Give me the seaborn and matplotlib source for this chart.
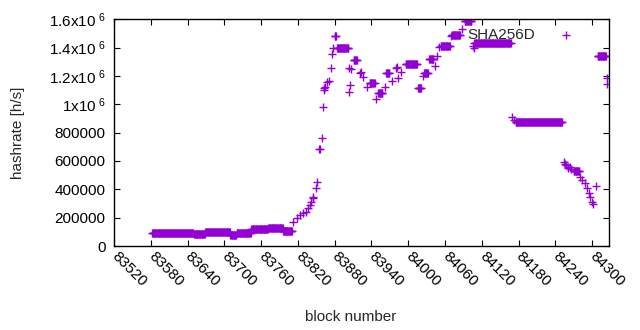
import numpy as np
import pandas as pd
import matplotlib
matplotlib.use('Agg')
import matplotlib.pyplot as plt
import matplotlib.transforms as mtransforms
import seaborn as sns

# plateaus: consecutive blocks with the same hashrate
run_start = [83582, 83650, 83669, 83710, 83720, 83744, 83772, 83796, 83880, 83884,
             83911, 83937, 83951, 83964, 83996, 84016, 84026, 84034, 84053, 84071,
             84092, 84108, 84175, 84270, 84309]
run_end = [83649, 83668, 83709, 83719, 83743, 83771, 83795, 83810, 83882, 83902,
           83916, 83945, 83958, 83969, 84014, 84021, 84032, 84041, 84068, 84084,
           84103, 84167, 84251, 84279, 84322]
run_rate = [90000, 83000, 98000, 76000, 94000, 118000, 125000, 108000, 1480000, 1400000,
            1316000, 1147000, 1077000, 1220000, 1288000, 1112000, 1218000, 1323000, 1412000, 1492000,
            1586000, 1436000, 876000, 529000, 1342000]

# single blocks
single_block = [83812, 83818, 83823, 83829, 83834, 83837, 83840, 83842, 83844, 83845,
                83849, 83851, 83855, 83856, 83859, 83861, 83862, 83863, 83864, 83868,
                83870, 83874, 83876, 83878, 83903, 83904, 83905, 83906, 83922, 83923,
                83926, 83932, 83948, 83962, 83974, 83980, 83981, 83983, 83989, 84024,
                84043, 84047, 84050, 84069, 84087, 84105, 84107, 84170, 84172, 84254,
                84256, 84258, 84260, 84261, 84264, 84266, 84281, 84284, 84288, 84292,
                84295, 84297, 84300, 84301, 84306, 84324, 84325]
single_rate = [169000, 197000, 218000, 230000, 242000, 266000, 289000, 312000, 336000, 348000,
               407000, 453000, 682000, 688000, 759000, 982000, 1112000, 1100000, 1120000, 1158000,
               1163000, 1253000, 1354000, 1398000, 1253000, 1088000, 1135000, 1246000, 1218000, 1225000,
               1194000, 1123000, 1041000, 1123000, 1165000, 1253000, 1260000, 1188000, 1229000, 1199000,
               1269000, 1341000, 1401000, 1483000, 1530000, 1412000, 1394000, 911000, 890000, 594000,
               580000, 571000, 556000, 548000, 560000, 540000, 484000, 465000, 442000, 406000,
               371000, 348000, 312000, 296000, 423000, 1187000, 1142000]

xticks = list(range(83520, 84301, 60))
yticks = [0, 200000, 400000, 600000, 800000, 1000000, 1200000, 1400000, 1600000]
ytick_labels = ['0', '200000', '400000', '600000', '800000',
                r'1x10$^{\ 6}$', r'1.2x10$^{\ 6}$', r'1.4x10$^{\ 6}$', r'1.6x10$^{\ 6}$']

blocks = []
rates = []
for a, b, r in zip(run_start, run_end, run_rate):
    for k in range(a, b + 1):
        blocks.append(k)
        rates.append(r)
blocks += single_block
rates += single_rate
df = pd.DataFrame({'block': blocks, 'hashrate': rates}).sort_values('block')

sns.set_style('white')
plt.rcParams['font.family'] = ['Liberation Sans', 'DejaVu Sans']
plt.rcParams['mathtext.default'] = 'regular'

fig = plt.figure(figsize=(6.4, 3.3), dpi=100)
ax = fig.add_axes([114 / 640, 84 / 330, 495.3 / 640, 226.7 / 330])

sns.scatterplot(data=df, x='block', y='hashrate', marker='+', color='#9400d3',
                s=28, linewidth=1.0, ax=ax, label='SHA256D')

ax.set_xlim(83520, 84328)
ax.set_ylim(0, 1600000)
ax.set_xticks(xticks)
ax.set_xticklabels([str(t) for t in xticks], fontsize=11, rotation=-45,
                   ha='left', va='center', rotation_mode='anchor')
ax.set_yticks(yticks)
ax.set_yticklabels(ytick_labels, fontsize=11)

off = mtransforms.ScaledTranslation(8 / 100, -14 / 100, fig.dpi_scale_trans)
for lab in ax.get_xticklabels():
    lab.set_transform(lab.get_transform() + off)

ax.tick_params(direction='in', length=4.5, width=0.8, top=True, right=True,
               bottom=True, left=True, colors='black', labelcolor='black')
ax.tick_params(axis='x', pad=6)
ax.tick_params(axis='y', pad=6)
for sp in ax.spines.values():
    sp.set_color('black')
    sp.set_linewidth(1.0)

ax.set_xlabel('block number', fontsize=11)
ax.set_ylabel('hashrate [h/s]', fontsize=11)
ax.xaxis.set_label_coords((351 - 114) / 495.3, (246 - 310) / 226.7)
ax.yaxis.set_label_coords((25 - 114) / 495.3, 0.5)

ax.legend(loc='upper right', bbox_to_anchor=(0.962, 1.0), markerfirst=False,
          frameon=False, fontsize=11, handletextpad=1.0, borderaxespad=0.2,
          handlelength=2.0)

fig.savefig('out.png', dpi=100)
